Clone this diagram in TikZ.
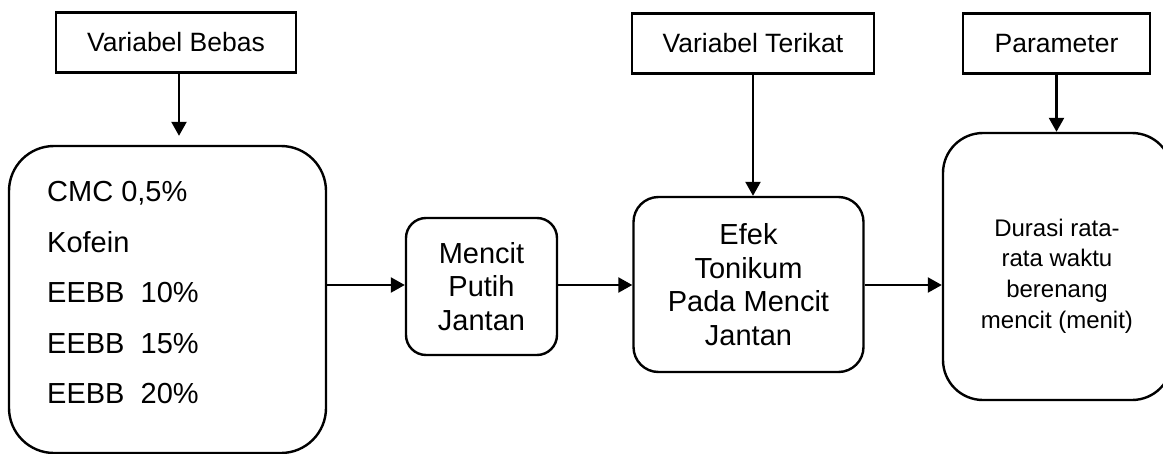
\documentclass[tikz,border=0pt]{standalone}
\usepackage{fontspec}
\setmainfont{Liberation Sans}
\usetikzlibrary{arrows.meta}
\begin{document}
\begin{tikzpicture}[x=1pt,y=-1pt,
  box/.style={draw, line width=2.4pt, inner sep=0pt, align=center},
  topbox/.style={box, font=\fontsize{26.5}{31}\selectfont},
  mid/.style={box, font=\fontsize{29}{33.5}\selectfont},
  arr/.style={line width=2.4pt, -{Triangle[width=15pt,length=14pt]}}]
\path[use as bounding box, clip] (0,0) rectangle (1163,453);
\coordinate (h) at (0,285);
\node[topbox, minimum width=240pt, minimum height=60pt] (vb) at (176,42.5) {Variabel Bebas};
\node[topbox, minimum width=242pt, minimum height=60pt] (vt) at (753,43.5) {Variabel Terikat};
\node[topbox, minimum width=187pt, minimum height=60pt] (pm) at (1056.5,43.5) {Parameter};
\node[box, rounded corners=45pt, minimum width=317pt, minimum height=307pt] (bb) at (167.5,299.5) {};
\node[anchor=west, align=left, inner sep=0pt, font=\fontsize{29}{50.5}\selectfont] (bbt) at (47,293) {CMC 0,5\%\\Kofein\\EEBB~~10\%\\EEBB~~15\%\\EEBB~~20\%};
\node[mid, rounded corners=20pt, minimum width=151pt, minimum height=137pt] (mc) at (481.5,286.5) {Mencit\\Putih\\Jantan};
\node[mid, rounded corners=25pt, minimum width=230pt, minimum height=175pt] (ef) at (748.5,284.5) {Efek\\Tonikum\\Pada Mencit\\Jantan};
\node[box, rounded corners=40pt, minimum width=229pt, minimum height=267pt] (du) at (1057.5,266.5) {};
\node[align=center, inner sep=0pt, font=\fontsize{24}{30.7}\selectfont] (dut) at (1057,276) {Durasi rata-\\rata waktu\\berenang\\mencit (menit)};
\draw[arr, shorten >=9pt] ([xshift=3pt]vb.south) -- ([xshift=3pt]vb.south |- bb.north);
\draw[arr] (vt.south) -- (vt.south |- ef.north);
\draw[arr] (pm.south) -- (pm.south |- du.north);
\draw[arr] (bb.east |- h) -- (mc.west |- h);
\draw[arr] (mc.east |- h) -- (ef.west |- h);
\draw[arr] (ef.east |- h) -- (du.west |- h);
\end{tikzpicture}
\end{document}
